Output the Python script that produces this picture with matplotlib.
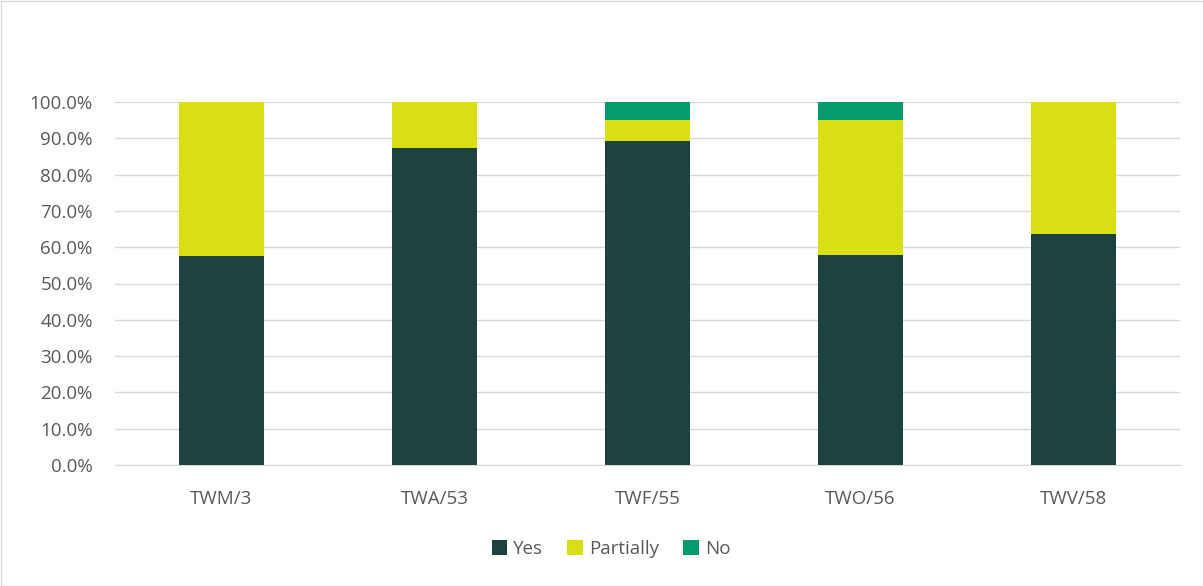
import matplotlib
matplotlib.use("Agg")
import matplotlib.pyplot as plt
from matplotlib.ticker import PercentFormatter, MultipleLocator
from matplotlib.patches import Rectangle

categories = ["TWM/3", "TWA/53", "TWF/55", "TWO/56", "TWV/58"]
yes = [57.6, 87.3, 89.3, 57.9, 63.6]
partially = [42.4, 12.7, 5.7, 37.1, 36.4]
no = [0.0, 0.0, 5.0, 5.0, 0.0]

colors = {"Yes": "#1D4340", "Partially": "#DADF12", "No": "#059A6E"}

plt.rcParams['font.family'] = ['Open Sans', 'DejaVu Sans']

fig = plt.figure(figsize=(12.03, 5.86), dpi=100)
ax = fig.add_axes([115/1203, 1 - 465/586, (1180-115)/1203, (465-102)/586])

x = range(len(categories))
w = 0.4
ax.bar(x, yes, w, color=colors["Yes"], label="Yes", zorder=3)
ax.bar(x, partially, w, bottom=yes, color=colors["Partially"], label="Partially", zorder=3)
bot2 = [a + b for a, b in zip(yes, partially)]
ax.bar(x, no, w, bottom=bot2, color=colors["No"], label="No", zorder=3)

ax.set_xlim(-0.5, len(categories) - 0.5)
ax.set_ylim(0, 100)
ax.yaxis.set_major_locator(MultipleLocator(10))
ax.yaxis.set_major_formatter(PercentFormatter(decimals=1))
ax.set_xticks(list(x))
ax.set_xticklabels(categories)
ax.grid(axis='y', color='#D9D9D9', linewidth=1, zorder=0)
for s in ax.spines.values():
    s.set_visible(False)
ax.spines['bottom'].set_visible(True)
ax.spines['bottom'].set_color('#D9D9D9')
ax.tick_params(axis='both', length=0, labelsize=13.5, colors='#595959')
ax.tick_params(axis='y', pad=16)
ax.tick_params(axis='x', pad=18)

leg = fig.legend(loc='center', bbox_to_anchor=(611/1203, 1 - 549/586), ncol=3, frameon=False,
                 fontsize=13.5, handlelength=0.85, handleheight=0.85, handletextpad=0.3, columnspacing=1.3)
for t in leg.get_texts():
    t.set_color('#595959')

fig.patches.append(Rectangle((0.5/1203, 0.5/586), 1 - 1/1203, 1 - 1/586, transform=fig.transFigure,
                             fill=False, edgecolor='#D9D9D9', linewidth=1))

fig.savefig("out.png", dpi=100)
